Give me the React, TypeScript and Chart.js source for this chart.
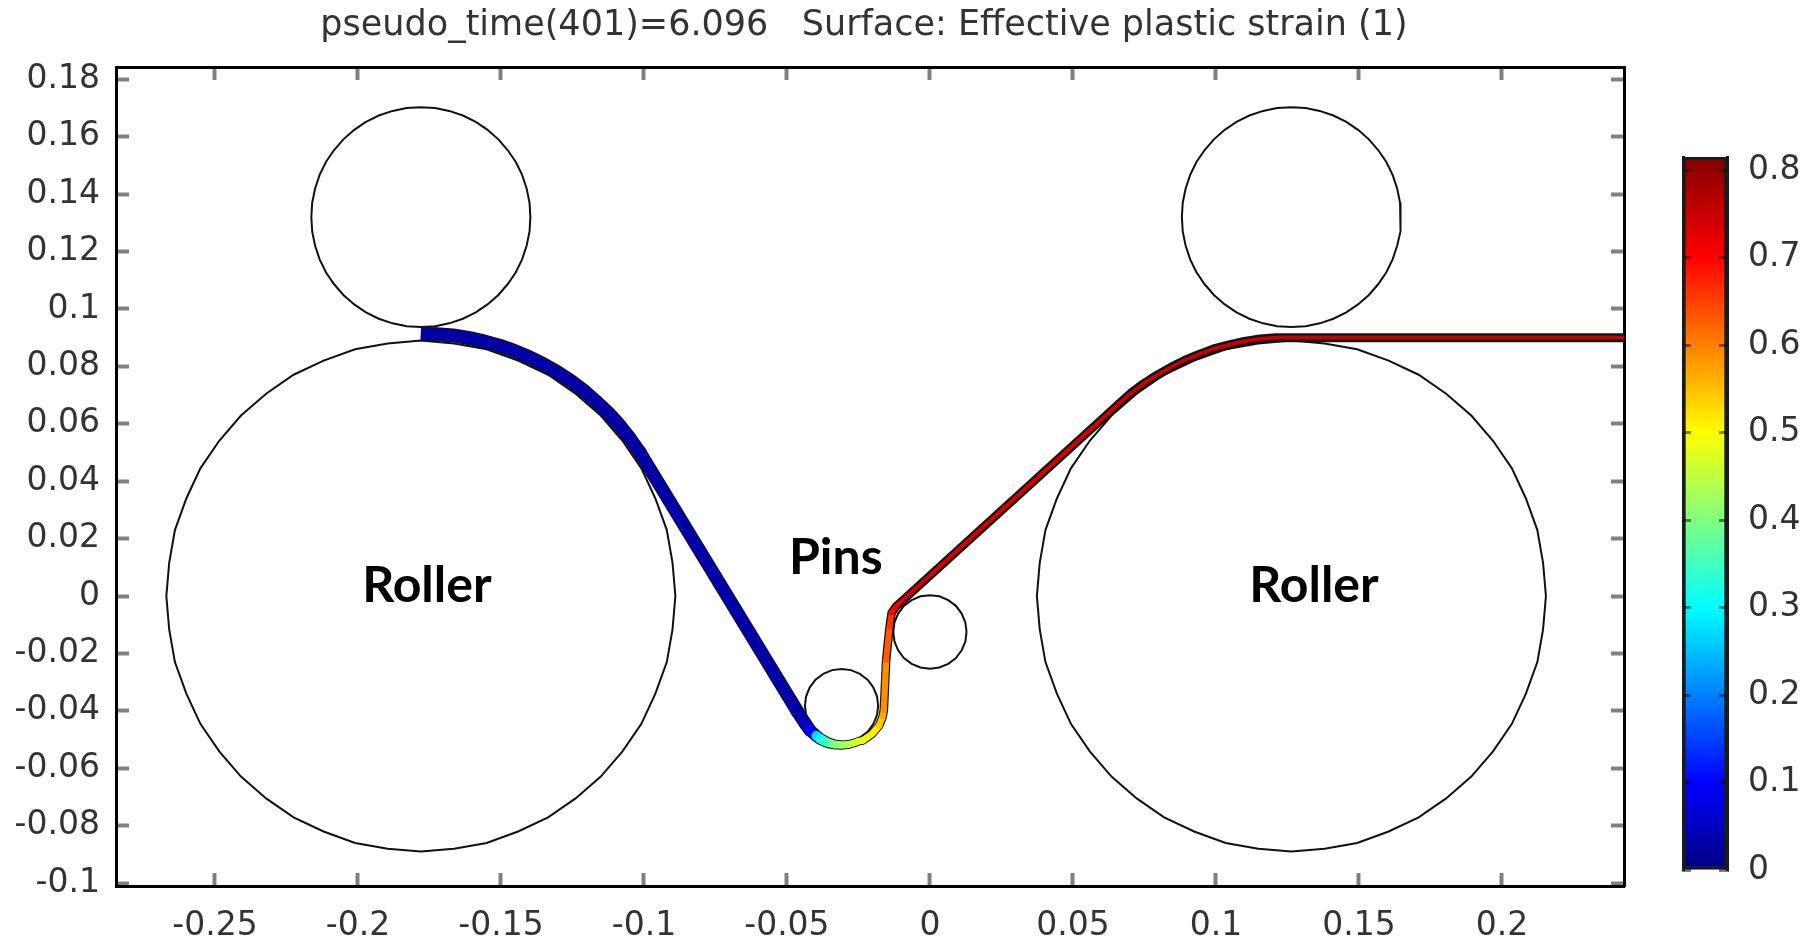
import React, { useEffect, useRef } from "react";
import { Chart, registerables } from "chart.js";

Chart.register(...registerables);

const titleText = "pseudo_time(401)=6.096   Surface: Effective plastic strain (1)";

const xTicks = [-0.25, -0.2, -0.15, -0.1, -0.05, 0, 0.05, 0.1, 0.15, 0.2];
const yTicks = [-0.1, -0.08, -0.06, -0.04, -0.02, 0, 0.02, 0.04, 0.06, 0.08, 0.1, 0.12, 0.14, 0.16, 0.18];
const colorbarTicks = [0, 0.1, 0.2, 0.3, 0.4, 0.5, 0.6, 0.7, 0.8];

const colorbarValues = [0, 0.1, 0.2, 0.3, 0.4, 0.5, 0.6, 0.7, 0.815];
const colorbarReds = [0, 0, 0, 0, 128, 255, 255, 255, 128];
const colorbarGreens = [0, 0, 128, 255, 255, 255, 128, 0, 0];
const colorbarBlues = [128, 255, 255, 255, 128, 0, 0, 0, 0];

const rollerY = [0.089, 0.088, 0.086, 0.082, 0.0771, 0.0705, 0.0629, 0.0541, 0.0445, 0.034, 0.023, 0.0116, 0, -0.0116, -0.023, -0.034, -0.0445, -0.0541, -0.0629, -0.0705, -0.0771, -0.082, -0.086, -0.088, -0.089, -0.088, -0.086, -0.082, -0.0771, -0.0705, -0.0629, -0.0541, -0.0445, -0.034, -0.023, -0.0116, 0, 0.0116, 0.023, 0.034, 0.0445, 0.0541, 0.0629, 0.0705, 0.0771, 0.082, 0.086, 0.088, 0.089];
const leftRollerX = [-0.178, -0.1664, -0.155, -0.144, -0.1335, -0.1239, -0.1151, -0.1075, -0.1009, -0.096, -0.092, -0.09, -0.089, -0.09, -0.092, -0.096, -0.1009, -0.1075, -0.1151, -0.1239, -0.1335, -0.144, -0.155, -0.1664, -0.178, -0.1896, -0.201, -0.212, -0.2225, -0.2321, -0.2409, -0.2485, -0.2551, -0.26, -0.264, -0.266, -0.267, -0.266, -0.264, -0.26, -0.2551, -0.2485, -0.2409, -0.2321, -0.2225, -0.212, -0.201, -0.1896, -0.178];
const rightRollerX = [0.1264, 0.138, 0.1494, 0.1604, 0.1709, 0.1805, 0.1893, 0.1969, 0.2035, 0.2084, 0.2124, 0.2144, 0.2154, 0.2144, 0.2124, 0.2084, 0.2035, 0.1969, 0.1893, 0.1805, 0.1709, 0.1604, 0.1494, 0.138, 0.1264, 0.1148, 0.1034, 0.0924, 0.0819, 0.0723, 0.0635, 0.0559, 0.0493, 0.0444, 0.0404, 0.0384, 0.0374, 0.0384, 0.0404, 0.0444, 0.0493, 0.0559, 0.0635, 0.0723, 0.0819, 0.0924, 0.1034, 0.1148, 0.1264];

const upperY = [0.1703, 0.17, 0.169, 0.1674, 0.1652, 0.1624, 0.1591, 0.1553, 0.1512, 0.1467, 0.1419, 0.137, 0.132, 0.127, 0.1221, 0.1173, 0.1128, 0.1087, 0.1049, 0.1016, 0.0988, 0.0966, 0.095, 0.094, 0.0937, 0.094, 0.095, 0.0966, 0.0988, 0.1016, 0.1049, 0.1087, 0.1128, 0.1173, 0.1221, 0.127, 0.132, 0.137, 0.1419, 0.1467, 0.1512, 0.1553, 0.1591, 0.1624, 0.1652, 0.1674, 0.169, 0.17, 0.1703];
const leftUpperX = [-0.178, -0.173, -0.1681, -0.1633, -0.1588, -0.1547, -0.1509, -0.1476, -0.1448, -0.1426, -0.141, -0.14, -0.1397, -0.14, -0.141, -0.1426, -0.1448, -0.1476, -0.1509, -0.1547, -0.1588, -0.1633, -0.1681, -0.173, -0.178, -0.183, -0.1879, -0.1927, -0.1972, -0.2013, -0.2051, -0.2084, -0.2112, -0.2134, -0.215, -0.216, -0.2163, -0.216, -0.215, -0.2134, -0.2112, -0.2084, -0.2051, -0.2013, -0.1972, -0.1927, -0.1879, -0.183, -0.178];
const rightUpperX = [0.1264, 0.1314, 0.1363, 0.1411, 0.1456, 0.1497, 0.1535, 0.1568, 0.1596, 0.1618, 0.1634, 0.1644, 0.1647, 0.1644, 0.1634, 0.1618, 0.1596, 0.1568, 0.1535, 0.1497, 0.1456, 0.1411, 0.1363, 0.1314, 0.1264, 0.1214, 0.1165, 0.1117, 0.1072, 0.1031, 0.0993, 0.096, 0.0932, 0.091, 0.0894, 0.0884, 0.0881, 0.0884, 0.0894, 0.091, 0.0932, 0.096, 0.0993, 0.1031, 0.1072, 0.1117, 0.1165, 0.1214, 0.1264];

const pinOneX = [-0.0309, -0.0276, -0.0245, -0.0218, -0.0198, -0.0185, -0.0181, -0.0185, -0.0198, -0.0218, -0.0245, -0.0276, -0.0309, -0.0342, -0.0373, -0.04, -0.042, -0.0433, -0.0437, -0.0433, -0.042, -0.04, -0.0373, -0.0342, -0.0309];
const pinOneY = [-0.0254, -0.0258, -0.0271, -0.0291, -0.0318, -0.0349, -0.0382, -0.0415, -0.0446, -0.0473, -0.0493, -0.0506, -0.051, -0.0506, -0.0493, -0.0473, -0.0446, -0.0415, -0.0382, -0.0349, -0.0318, -0.0291, -0.0271, -0.0258, -0.0254];
const pinTwoX = [0, 0.0033, 0.0064, 0.0091, 0.0111, 0.0124, 0.0128, 0.0124, 0.0111, 0.0091, 0.0064, 0.0033, 0, -0.0033, -0.0064, -0.0091, -0.0111, -0.0124, -0.0128, -0.0124, -0.0111, -0.0091, -0.0064, -0.0033, 0];
const pinTwoY = [0.0003, -0.0001, -0.0014, -0.0034, -0.0061, -0.0092, -0.0125, -0.0158, -0.0189, -0.0216, -0.0236, -0.0249, -0.0253, -0.0249, -0.0236, -0.0216, -0.0189, -0.0158, -0.0125, -0.0092, -0.0061, -0.0034, -0.0014, -0.0001, 0.0003];

const stripX = [
  -0.178, -0.1724, -0.1668, -0.1614, -0.1559, -0.1505, -0.1453, -0.1401, -0.1351, -0.1303, -0.1255, -0.1211, -0.1169, -0.1128, -0.109, -0.105, -0.1013,
  -0.0462, -0.0435, -0.042, -0.0397, -0.0384, -0.0371, -0.0356, -0.0344, -0.0333, -0.0321, -0.0309, -0.0297, -0.0285, -0.0274, -0.0262, -0.0251, -0.0235, -0.0203, -0.0178, -0.0165, -0.0161, -0.0153, -0.0141, -0.0134, -0.0119, -0.0094,
  0.0661, 0.0702, 0.0746, 0.0793, 0.0841, 0.089, 0.0941, 0.0992, 0.1046, 0.11, 0.1154, 0.1209, 0.1264, 0.2427,
];
const stripY = [
  0.0914, 0.0912, 0.0908, 0.0899, 0.0887, 0.0872, 0.0854, 0.0832, 0.0807, 0.078, 0.0749, 0.0716, 0.0679, 0.0641, 0.06, 0.055, 0.0498,
  -0.0404, -0.0445, -0.0467, -0.0487, -0.0497, -0.0504, -0.0511, -0.0514, -0.0517, -0.0518, -0.0519, -0.0518, -0.0517, -0.0514, -0.0511, -0.0506, -0.0503, -0.0481, -0.0452, -0.042, -0.0395, -0.0223, -0.0107, -0.0059, -0.0037, -0.0014,
  0.067, 0.0706, 0.0739, 0.0769, 0.0796, 0.0821, 0.0842, 0.0861, 0.0875, 0.0887, 0.0896, 0.09, 0.09, 0.09,
];
const stripStrain = [
  0.03, 0.03, 0.03, 0.03, 0.03, 0.03, 0.03, 0.03, 0.03, 0.03, 0.03, 0.03, 0.03, 0.03, 0.03, 0.03, 0.03,
  0.03, 0.05, 0.1, 0.27, 0.31, 0.33, 0.36, 0.38, 0.4, 0.41, 0.42, 0.43, 0.44, 0.45, 0.46, 0.47, 0.49, 0.51, 0.54, 0.57, 0.59, 0.63, 0.66, 0.7, 0.72, 0.74,
  0.75, 0.75, 0.75, 0.75, 0.75, 0.75, 0.75, 0.75, 0.75, 0.75, 0.75, 0.75, 0.75, 0.75,
];
const stripThickness = [
  0.0049, 0.0049, 0.0049, 0.0049, 0.0049, 0.0049, 0.0049, 0.0049, 0.0049, 0.0049, 0.0049, 0.0049, 0.0049, 0.0049, 0.0049, 0.0048, 0.0047,
  0.0046, 0.0045, 0.0043, 0.0041, 0.004, 0.0038, 0.0036, 0.0034, 0.0033, 0.0032, 0.0031, 0.0031, 0.003, 0.003, 0.003, 0.003, 0.003, 0.003, 0.003, 0.003, 0.003, 0.003, 0.003, 0.003, 0.003, 0.003,
  0.0031, 0.0031, 0.0031, 0.0031, 0.0031, 0.0031, 0.0031, 0.0031, 0.0031, 0.0031, 0.0031, 0.0031, 0.0031, 0.0031,
];
const stripCoreThickness = [
  0.0042, 0.0042, 0.0042, 0.0042, 0.0042, 0.0042, 0.0042, 0.0042, 0.0042, 0.0042, 0.0042, 0.0042, 0.0042, 0.0042, 0.0042, 0.0041, 0.004,
  0.0039, 0.0038, 0.0036, 0.0034, 0.0033, 0.0031, 0.0029, 0.0027, 0.0026, 0.0025, 0.0024, 0.0024, 0.0023, 0.0023, 0.0023, 0.0023, 0.0023, 0.0023, 0.0022, 0.0022, 0.0022, 0.0021, 0.002, 0.0018, 0.0016, 0.0014,
  0.0013, 0.0013, 0.0013, 0.0013, 0.0013, 0.0013, 0.0013, 0.0013, 0.0013, 0.0013, 0.0013, 0.0013, 0.0013, 0.0013,
];

const annotationLabels = ["Roller", "Pins", "Roller"];
const annotationX = [-0.1759, -0.0329, 0.1343];
const annotationY = [0.0034, 0.0132, 0.0034];

const zip = (xs: number[], ys: number[]) => xs.map((x, i) => ({ x, y: ys[i] }));

const strainColor = (v: number) => {
  let i = 0;
  while (i < colorbarValues.length - 2 && v > colorbarValues[i + 1]) i++;
  const t = (v - colorbarValues[i]) / (colorbarValues[i + 1] - colorbarValues[i]);
  const mix = (a: number[]) => Math.round(a[i] + (a[i + 1] - a[i]) * t);
  return `rgb(${mix(colorbarReds)},${mix(colorbarGreens)},${mix(colorbarBlues)})`;
};

const tickFont = { family: '"DejaVu Sans"', size: 33 };
const tickColor = "#333333";
const softEdge = "blur(0.7px)";

const outline = (label: string, xs: number[], ys: number[]) => ({
  label,
  data: zip(xs, ys),
  borderColor: "#111111",
  borderWidth: 2,
  pointRadius: 0,
  tension: 0,
  fill: false,
  clip: 0,
  order: 3,
});

export default function App() {
  const mainRef = useRef<HTMLCanvasElement>(null);
  const barRef = useRef<HTMLCanvasElement>(null);
  const noteRef = useRef<HTMLCanvasElement>(null);

  useEffect(() => {
    const xRange = { min: -0.2846, max: 0.2427 };
    const yRange = { min: -0.101, max: 0.1843 };
    const setTicks = (vals: number[]) => (axis: any) => {
      axis.ticks = vals.map((value) => ({ value }));
    };
    const frame = {
      border: { display: true, color: "#000", width: 3 },
      grid: { drawOnChartArea: false, drawTicks: true, tickLength: -13, tickWidth: 4, tickColor: "#808080" },
    };
    const labels = {
      font: tickFont,
      color: tickColor,
      autoSkip: false,
      minRotation: 0,
      maxRotation: 0,
      callback: (v: number) => String(v),
    };
    const widthPx = (c: any, series: number[]) =>
      Math.abs(c.chart.scales.y.getPixelForValue(series[c.p0DataIndex]) - c.chart.scales.y.getPixelForValue(0));
    const capFor = (c: any) => (c.p0DataIndex === 0 ? "butt" : "round");

    const annotationPlugin = {
      id: "annotations",
      afterDraw(chart: any) {
        const ctx = noteRef.current!.getContext("2d")!;
        const { scales } = chart;
        ctx.clearRect(0, 0, 1806, 941);
        ctx.font = "bold 50px Lato";
        ctx.fillStyle = "#000";
        ctx.textAlign = "center";
        ctx.textBaseline = "middle";
        annotationLabels.forEach((t, i) => {
          ctx.fillText(t, scales.x.getPixelForValue(annotationX[i]), scales.y.getPixelForValue(annotationY[i]));
        });
      },
    };

    const main = new Chart(mainRef.current!, {
      type: "line",
      data: {
        datasets: [
          outline("Left roller", leftRollerX, rollerY),
          outline("Right roller", rightRollerX, rollerY),
          outline("Left upper roller", leftUpperX, upperY),
          outline("Right upper roller", rightUpperX, upperY),
          outline("Pin 1", pinOneX, pinOneY),
          outline("Pin 2", pinTwoX, pinTwoY),
          {
            label: "Strip edge",
            data: zip(stripX, stripY),
            order: 2,
            borderColor: "#141414",
            borderWidth: 8,
            borderJoinStyle: "round",
            pointRadius: 0,
            tension: 0,
            fill: false,
            segment: {
              borderWidth: (c: any) => widthPx(c, stripThickness),
              borderCapStyle: capFor,
            },
          },
          {
            label: "Effective plastic strain",
            data: zip(stripX, stripY),
            order: 1,
            borderColor: "#000080",
            borderWidth: 6,
            borderJoinStyle: "round",
            pointRadius: 0,
            tension: 0,
            fill: false,
            segment: {
              borderColor: (c: any) => strainColor(stripStrain[c.p0DataIndex]),
              borderWidth: (c: any) => widthPx(c, stripCoreThickness),
              borderCapStyle: capFor,
            },
          },
        ] as any,
      },
      options: {
        responsive: false,
        animation: false,
        parsing: false,
        normalized: true,
        layout: { padding: { top: 0, left: 0, bottom: 0, right: 78 } },
        plugins: {
          legend: { display: false },
          tooltip: { enabled: false },
          title: {
            display: true,
            text: titleText,
            color: tickColor,
            font: { family: '"DejaVu Sans"', size: 35, weight: "normal", lineHeight: 1.2 },
            padding: { top: 5, bottom: 0 },
          },
        },
        scales: {
          x: {
            type: "linear",
            position: "bottom",
            ...xRange,
            ...frame,
            afterBuildTicks: setTicks(xTicks),
            afterFit: (s: any) => { s.height = 55; },
            ticks: { ...labels, padding: 34 },
          },
          x2: {
            type: "linear",
            axis: "x",
            position: "top",
            ...xRange,
            ...frame,
            afterBuildTicks: setTicks(xTicks),
            afterFit: (s: any) => { s.height = 20; },
            ticks: { display: false },
          },
          y: {
            type: "linear",
            position: "left",
            ...yRange,
            ...frame,
            afterBuildTicks: setTicks(yTicks),
            afterFit: (s: any) => { s.width = 116; },
            ticks: { ...labels, padding: 29 },
          },
          y2: {
            type: "linear",
            axis: "y",
            position: "right",
            ...yRange,
            ...frame,
            afterBuildTicks: setTicks(yTicks),
            afterFit: (s: any) => { s.width = 104; },
            ticks: { display: false },
          },
        },
      } as any,
      plugins: [annotationPlugin],
    });

    const barFill = (c: any) => {
      const { ctx, chartArea, scales } = c.chart;
      if (!chartArea) return "#000080";
      const g = ctx.createLinearGradient(0, chartArea.bottom, 0, chartArea.top);
      const span = scales.y.max - scales.y.min;
      colorbarValues.forEach((v) => {
        g.addColorStop(Math.min(1, v / span), strainColor(v));
      });
      return g;
    };
    const barFrame = {
      border: { display: true, color: "#1a1a1a", width: 3, z: 1 },
      grid: { z: 1, drawOnChartArea: false, drawTicks: true, tickLength: -8, tickWidth: 3, tickColor: "rgba(0,0,0,0.5)" },
    };
    const barTop = colorbarValues[colorbarValues.length - 1];
    const barRange = { min: 0, max: barTop };
    const bar = new Chart(barRef.current!, {
      type: "bar",
      data: {
        labels: ["Effective plastic strain"],
        datasets: [
          {
            label: "Colour bar",
            data: [barTop],
            backgroundColor: barFill,
            barPercentage: 1,
            categoryPercentage: 1,
            borderWidth: 3,
            borderColor: "#1a1a1a",
            borderSkipped: false,
          },
        ],
      },
      options: {
        responsive: false,
        animation: false,
        layout: { padding: { top: 157, bottom: 71, left: 0, right: 0 } },
        plugins: { legend: { display: false }, tooltip: { enabled: false }, title: { display: false } },
        scales: {
          x: { display: false },
          y: {
            type: "linear",
            position: "right",
            ...barRange,
            ...barFrame,
            afterBuildTicks: setTicks(colorbarTicks),
            afterFit: (s: any) => { s.width = 79; },
            ticks: { ...labels, padding: 29 },
          },
          y2: {
            type: "linear",
            axis: "y",
            position: "left",
            ...barRange,
            ...barFrame,
            afterBuildTicks: setTicks(colorbarTicks),
            afterFit: (s: any) => { s.width = 83; },
            ticks: { display: false },
          },
        },
      } as any,
    });

    return () => {
      main.destroy();
      bar.destroy();
    };
  }, []);

  return (
    <div style={{ position: "absolute", left: 0, top: 0, width: 1806, height: 941, background: "#fff", overflow: "hidden" }}>
      <canvas ref={mainRef} width={1806} height={941} style={{ position: "absolute", left: 0, top: 0, display: "block", filter: softEdge }} />
      <canvas ref={barRef} width={206} height={941} style={{ position: "absolute", left: 1600, top: 0, display: "block", filter: softEdge }} />
      <canvas ref={noteRef} width={1806} height={941} style={{ position: "absolute", left: 0, top: 0, display: "block" }} />
    </div>
  );
}
